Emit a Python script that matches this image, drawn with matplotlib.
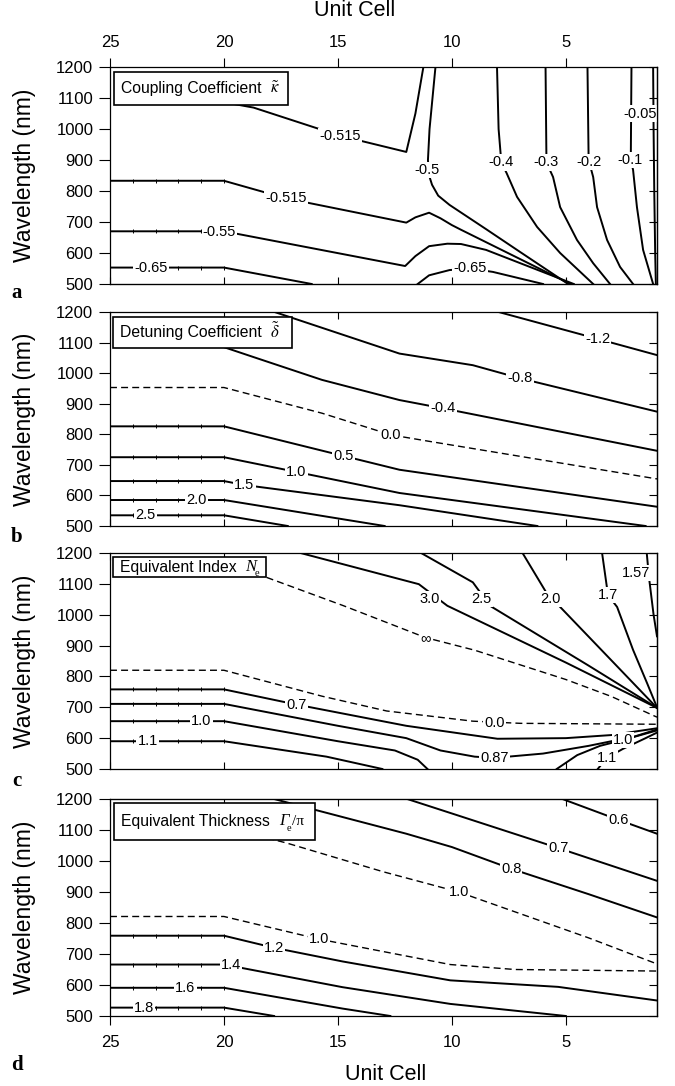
import numpy as np
import matplotlib.pyplot as plt
from matplotlib.patches import Rectangle

plt.rcParams['font.family'] = ['Liberation Sans', 'DejaVu Sans']
plt.rcParams['mathtext.fontset'] = 'stix'
plt.rcParams['mathtext.it'] = 'Liberation Serif:italic'
plt.rcParams['mathtext.rm'] = 'Liberation Serif'

unit_ticks = [25, 20, 15, 10, 5]
wl_ticks = [500, 600, 700, 800, 900, 1000, 1100, 1200]
flat_cells = [25, 24, 23, 22, 21, 20]

# (a) coupling coefficient: contour paths as (unit cell, wavelength nm)
a_0515_top = ([21, 18.7, 14.9, 12.0, 11.6, 11.25], [1100, 1069, 978, 926, 1050, 1200])
a_050 = ([10.72, 10.85, 10.98, 11.05, 11.0, 10.87, 10.6, 10.1, 8.5, 7.0, 4.9],
         [1200, 1100, 1000, 900, 850, 820, 785, 755, 677, 603, 500])
a_0515_low = ([25, 20, 17.26, 12.0, 11.6, 11.0, 10.5, 10.0, 9.6, 4.8],
              [833, 833, 776, 698, 715, 730, 712, 690, 675, 500])
a_055 = ([25, 20, 12.05, 11.6, 11.0, 10.2, 9.6, 8.5, 4.65],
         [670, 670, 558, 590, 622, 630, 629, 610, 500])
a_065_left = ([25, 20, 16.15], [553, 553, 500])
a_065_right = ([11.5, 11.0, 10.1, 9.2, 8.2, 6.0], [500, 528, 545, 550, 539, 500])
a_040 = ([8.02, 7.95, 7.83, 7.6, 7.14, 6.26, 5.25, 3.8], [1200, 1000, 892, 858, 781, 684, 600, 500])
a_030 = ([5.89, 5.85, 5.56, 5.25, 4.51, 3.8, 3.06], [1200, 892, 845, 748, 642, 567, 500])
a_020 = ([4.05, 4.0, 3.8, 3.63, 3.19, 2.62, 2.05], [1200, 900, 845, 748, 642, 555, 500])
a_010 = ([2.12, 2.15, 2.05, 1.88, 1.61, 1.17], [1200, 900, 868, 748, 610, 500])
a_005 = ([1.17, 1.15, 1.12, 1.08, 1.05], [1200, 1000, 800, 600, 500])
a_labels = [("-0.515", 14.9, 978), ("-0.5", 11.1, 868), ("-0.515", 17.26, 776),
            ("-0.55", 20.2, 668), ("-0.65", 23.2, 553), ("-0.65", 9.2, 550),
            ("-0.4", 7.83, 892), ("-0.3", 5.85, 892), ("-0.2", 4.0, 893),
            ("-0.1", 2.2, 900), ("-0.05", 1.75, 1050)]

# (b) detuning coefficient
b_m12 = ([7.95, 3.6, 1.0], [1200, 1112, 1059])
b_m08 = ([17.78, 12.3, 9.08, 7.0, 1.0], [1200, 1064, 1026, 983, 874])
b_m04 = ([20, 18.72, 15.7, 12.3, 10.4, 1.0], [1085, 1053, 978, 912, 885, 746])
b_00 = ([25, 20, 15.7, 12.67, 11.0, 1.0], [953, 953, 869, 798, 777, 654])
b_05 = ([25, 20, 14.75, 12.3, 1.0], [826, 826, 729, 684, 563])
b_10 = ([25, 20, 16.83, 12.3, 1.5], [725, 725, 677, 608, 500])
b_15 = ([25, 20, 19.1, 12.3, 6.25], [647, 647, 634, 568, 500])
b_20 = ([25, 20, 12.95], [585, 585, 500])
b_25 = ([25, 20, 17.2], [535, 535, 500])
b_labels = [("-1.2", 3.6, 1112), ("-0.8", 7.0, 983), ("-0.4", 10.4, 885),
            ("0.0", 12.67, 798), ("0.5", 14.75, 729), ("1.0", 16.83, 677),
            ("1.5", 19.1, 634), ("2.0", 21.2, 585), ("2.5", 23.45, 535)]

# (c) equivalent index
c_30 = ([16.64, 11.45, 10.2, 5.0, 1.0], [1200, 1099, 1029, 845, 698])
c_25 = ([11.35, 9.08, 8.33, 4.0, 1.0], [1200, 1105, 1029, 835, 698])
c_20 = ([6.9, 5.68, 5.3, 3.0, 1.0], [1200, 1050, 1029, 852, 698])
c_17 = ([3.41, 3.15, 2.75, 2.05, 1.44, 1.0], [1200, 1064, 1025, 886, 779, 700])
c_157 = ([1.45, 1.35, 1.15, 1.0], [1200, 1120, 1000, 930])
c_inf = ([20, 18.72, 14.75, 11.16, 9.0, 5.0, 3.0, 1.0], [1160, 1137, 1029, 926, 885, 790, 735, 668])
c_00 = ([25, 20, 15.7, 12.86, 9.08, 7.0, 1.0], [820, 820, 736, 688, 655, 648, 645])
c_07 = ([25, 20, 16.83, 12.0, 8.0, 5.0, 3.0, 1.0], [758, 758, 709, 640, 598, 600, 610, 632])
c_087 = ([25, 20, 15.0, 12.0, 10.5, 9.0, 8.14, 6.0, 4.0, 2.0, 1.0],
         [711, 711, 640, 600, 560, 540, 536, 550, 575, 605, 628])
c_10_left = ([25, 20, 15.0, 12.5, 11.5, 11.07], [655, 655, 590, 560, 530, 500])
c_11_left = ([25, 20, 15.5, 13.05], [590, 590, 540, 500])
c_10_right = ([5.4, 4.5, 3.5, 2.49, 1.0], [500, 545, 575, 594, 625])
c_11_right = ([3.6, 3.2, 2.5, 1.5, 1.0], [500, 536, 565, 600, 618])
c_labels = [("3.0", 10.97, 1050), ("2.5", 8.7, 1050), ("2.0", 5.68, 1050),
            ("1.7", 3.15, 1064), ("1.57", 1.9, 1135), ("\u221e", 11.16, 926),
            ("0.0", 8.14, 650), ("0.7", 16.83, 709), ("0.87", 8.14, 536),
            ("1.0", 21.0, 655), ("1.1", 23.35, 590), ("1.0", 2.49, 594), ("1.1", 3.2, 536)]

# (d) equivalent thickness
d_06 = ([5.15, 2.7, 1.0], [1200, 1133, 1088])
d_07 = ([11.96, 10.07, 5.34, 1.0], [1200, 1155, 1042, 936])
d_08 = ([17.8, 16.0, 12.0, 10.0, 7.4, 4.0, 1.0], [1200, 1165, 1088, 1045, 975, 893, 818])
d_10_up = ([20, 17.25, 13.0, 9.7, 7.0, 4.0, 1.0], [1110, 1058, 965, 900, 830, 752, 668])
d_10_low = ([25, 20, 15.83, 10.07, 7.23, 1.0], [821, 821, 748, 666, 650, 645])
d_12 = ([25, 20, 17.8, 14.8, 10.07, 5.34, 1.0], [759, 759, 720, 676, 615, 594, 550])
d_14 = ([25, 20, 14.8, 10.07, 5.0], [666, 666, 593, 539, 500])
d_16 = ([25, 20, 14.8, 12.7], [591, 591, 524, 500])
d_18 = ([25, 20, 17.8], [527, 527, 500])
d_labels = [("0.6", 2.7, 1133), ("0.7", 5.34, 1042), ("0.8", 7.4, 975),
            ("1.0", 9.7, 900), ("1.0", 15.83, 748), ("1.2", 17.8, 720),
            ("1.4", 19.7, 666), ("1.6", 21.7, 591), ("1.8", 23.5, 527)]

# box title, then the symbol drawn as (main, subscript, tail) pieces
panel_boxes = [
    ("Coupling Coefficient", ("$\\tilde{\\kappa}$", "", ""), 0.008, 0.823, 0.317, 0.154),
    ("Detuning Coefficient", ("$\\tilde{\\delta}$", "", ""), 0.005, 0.834, 0.327, 0.143),
    ("Equivalent Index", ("N", "e", ""), 0.005, 0.887, 0.28, 0.093),
    ("Equivalent Thickness", ("\u0393", "e", "/\u03c0"), 0.008, 0.813, 0.366, 0.167),
]

panels = [
    ([a_0515_top, a_050, a_0515_low, a_055, a_065_left, a_065_right, a_040, a_030, a_020, a_010, a_005], [], a_labels),
    ([b_m12, b_m08, b_m04, b_05, b_10, b_15, b_20, b_25], [b_00], b_labels),
    ([c_30, c_25, c_20, c_17, c_157, c_07, c_087, c_10_left, c_11_left, c_10_right, c_11_right], [c_inf, c_00], c_labels),
    ([d_06, d_07, d_08, d_12, d_14, d_16, d_18], [d_10_up, d_10_low], d_labels),
]

W, H = 675, 1086
fig = plt.figure(figsize=(W / 100, H / 100), dpi=100)
axes_px = [(67, 284), (312, 526), (553, 769), (799, 1016)]
letters = ["a", "b", "c", "d"]
letter_y = [293, 537, 781, 1065]

for i, (top, bot) in enumerate(axes_px):
    ax = fig.add_axes([110 / W, 1 - bot / H, 547 / W, (bot - top) / H])
    ax.set_xlim(25, 1)
    ax.set_ylim(500, 1200)
    ax.set_yticks(wl_ticks)
    ax.set_xticks(unit_ticks)
    for sp in ax.spines.values():
        sp.set_linewidth(0.9)
    ax.tick_params(axis='y', direction='out', length=8, width=0.8, pad=4, labelsize=12)

    sec_y = ax.secondary_yaxis('right')
    sec_y.set_yticks(wl_ticks)
    sec_y.tick_params(direction='in', length=6, width=0.8, labelright=False)
    sec_y.spines['right'].set_linewidth(0.9)

    if i == 0:
        ax.xaxis.tick_top()
        ax.tick_params(axis='x', direction='out', length=6.5, width=0.8, pad=6, labelsize=12)
        sec_x = ax.secondary_xaxis('bottom')
        sec_x.set_xticks(unit_ticks)
        sec_x.tick_params(direction='in', length=5, width=0.8, labelbottom=False)
    elif i == 3:
        ax.tick_params(axis='x', direction='out', length=6.5, width=0.8, pad=7, labelsize=12)
        sec_x = ax.secondary_xaxis('top')
        sec_x.set_xticks(unit_ticks)
        sec_x.tick_params(direction='in', length=5, width=0.8, labeltop=False)
    else:
        ax.tick_params(axis='x', direction='in', length=5, width=0.8, top=True, bottom=True,
                       labelbottom=False, labeltop=False)

    solid, dashed, labels = panels[i]
    for x, y in solid:
        ax.plot(x, y, color='k', lw=1.4, zorder=2)
        if x[0] == 25 and x[1] == 20:
            ax.plot(flat_cells, [y[0]] * len(flat_cells), ls='none', marker='|',
                    ms=3, mew=0.7, color='k', zorder=2)
    for x, y in dashed:
        ax.plot(x, y, color='k', lw=1.0, ls=(0, (5, 3)), zorder=2)
    for s, x, y in labels:
        ax.text(x, y, s, ha='center', va='center', fontsize=10.5, zorder=2.3,
                bbox=dict(boxstyle='square,pad=0.08', fc='white', ec='none'))

    txt, (sym, sub, tail), bx, by, bw, bh = panel_boxes[i]
    ax.add_patch(Rectangle((bx, by), bw, bh, transform=ax.transAxes, fc='white',
                           ec='k', lw=1.2, zorder=5))
    t1 = ax.text(bx + 0.013, by + bh / 2, txt, transform=ax.transAxes, ha='left',
                 va='center', fontsize=11.3, zorder=6)
    t2 = ax.annotate(sym, xy=(1, 0.5), xycoords=t1, xytext=(6, 0), textcoords='offset points',
                     ha='left', va='center', fontsize=12, family='Liberation Serif',
                     style='italic', zorder=6)
    if sub:
        t3 = ax.annotate(sub, xy=(1, 0), xycoords=t2, xytext=(-1, 1), textcoords='offset points',
                         ha='left', va='center', fontsize=7.5, family='Liberation Serif', zorder=6)
    if tail:
        ax.annotate(tail, xy=(1, 0.5), xycoords=t2, xytext=(3, 0), textcoords='offset points',
                    ha='left', va='center', fontsize=11, family='Liberation Serif', zorder=6)

    fig.text(25 / W, 1 - (top + bot) / 2 / H, "Wavelength (nm)", rotation=90,
             ha='center', va='center', fontsize=16.5)
    fig.text(17 / W, 1 - letter_y[i] / H, letters[i], ha='center', va='center',
             family='Liberation Serif', weight='bold', fontsize=15)

fig.text(355 / W, 1 - 10 / H, "Unit Cell", ha='center', va='center', fontsize=15.5)
fig.text(386 / W, 1 - 1074 / H, "Unit Cell", ha='center', va='center', fontsize=15.5)

fig.savefig("out.png", dpi=100)
